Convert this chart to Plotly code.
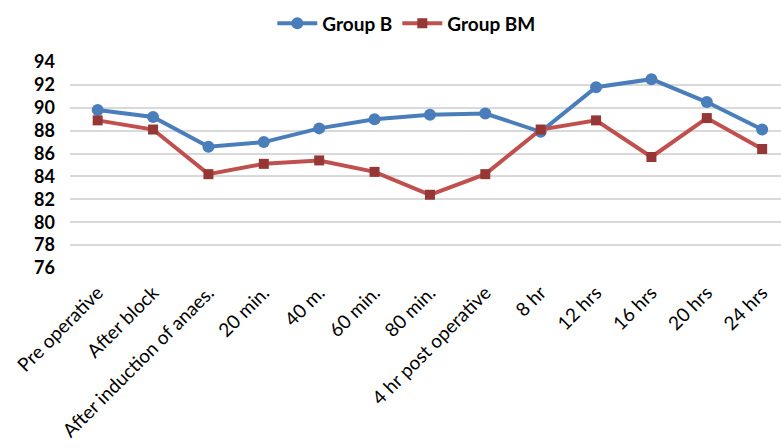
import plotly.graph_objects as go

categories = ["Pre operative", "After block", "After induction of anaes.", "20 min.",
              "40 m.", "60 min.", "80 min.", "4 hr post operative", "8 hr",
              "12 hrs", "16 hrs", "20 hrs", "24 hrs"]
group_b = [89.8, 89.2, 86.6, 87.0, 88.2, 89.0, 89.4, 89.5, 87.9, 91.8, 92.5, 90.5, 88.1]
group_bm = [88.9, 88.1, 84.2, 85.1, 85.4, 84.4, 82.4, 84.2, 88.1, 88.9, 85.7, 89.1, 86.4]
y_ticks = [76, 78, 80, 82, 84, 86, 88, 90, 92, 94]

fig = go.Figure()
fig.add_trace(go.Scatter(
    x=categories, y=group_b, name="Group B", mode="lines+markers",
    line=dict(color="#4A7EBB", width=4),
    marker=dict(symbol="circle", size=12, color="#4A7EBB"),
))
fig.add_trace(go.Scatter(
    x=categories, y=group_bm, name="Group BM", mode="lines+markers",
    line=dict(color="#C0504D", width=4),
    marker=dict(symbol="square", size=10, color="#953735"),
))

fig.update_layout(
    width=781, height=448,
    margin=dict(l=70, r=0, t=62, b=180),
    paper_bgcolor="white", plot_bgcolor="white",
    font=dict(family="Lato, Calibri, sans-serif", color="black"),
    showlegend=True,
    legend=dict(orientation="h", x=0.473, xanchor="center", y=0.99, yanchor="top",
                yref="container", font=dict(size=19, family="Lato", weight="bold"),
                itemwidth=40, traceorder="normal"),
    xaxis=dict(
        type="category", range=[-0.5, 12.34],
        tickangle=-45, tickfont=dict(size=19, family="Lato"),
        showgrid=False, showline=False, ticks="",
        ticklabelstandoff=9,
    ),
    yaxis=dict(
        range=[76, 94], tickvals=y_ticks, showgrid=True, gridcolor="#D9D9D9",
        gridwidth=1.5, zeroline=False, showline=False,
        tickfont=dict(size=18, family="Lato", weight="bold"),
        ticklabelstandoff=14,
    ),
)

fig.write_html("out.html")
